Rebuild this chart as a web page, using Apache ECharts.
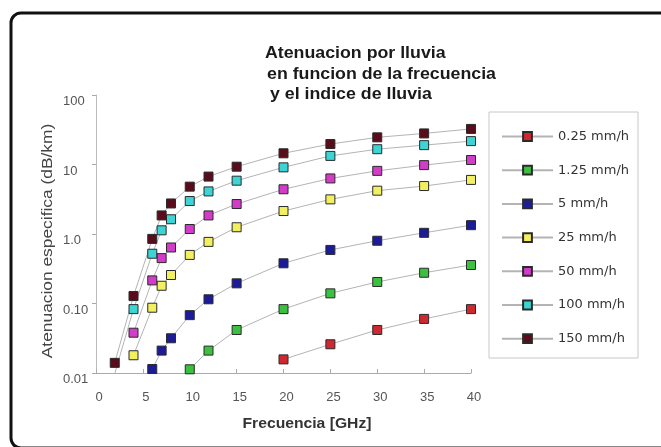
<!DOCTYPE html>
<html>
<head>
<meta charset="utf-8">
<script src="https://cdn.jsdelivr.net/npm/echarts@6/dist/echarts.min.js"></script>
<style>html,body{margin:0;padding:0;background:#fff;}#c{width:661px;height:447px;}</style>
</head>
<body>
<div id="c"></div>
<script>
// Series names
const seriesNames = ['0.25 mm/h','1.25 mm/h','5 mm/h','25 mm/h','50 mm/h','100 mm/h','150 mm/h'];
// Frequencies (GHz) and specific attenuation (dB/km) per rain rate
const freq025 = [20, 25, 30, 35, 40];
const att025  = [0.0157, 0.0259, 0.0416, 0.060, 0.083];
const freq125 = [10, 12, 15, 20, 25, 30, 35, 40];
const att125  = [0.0113, 0.021, 0.0416, 0.083, 0.14, 0.204, 0.277, 0.358];
const freq5   = [6, 7, 8, 10, 12, 15, 20, 25, 30, 35, 40];
const att5    = [0.0114, 0.021, 0.0316, 0.068, 0.115, 0.195, 0.379, 0.59, 0.80, 1.04, 1.34];
const freq25  = [4, 6, 7, 8, 10, 12, 15, 20, 25, 30, 35, 40];
const att25   = [0.018, 0.087, 0.18, 0.257, 0.50, 0.77, 1.25, 2.14, 3.15, 4.2, 4.9, 6.0];
const freq50  = [4, 6, 7, 8, 10, 12, 15, 20, 25, 30, 35, 40];
const att50   = [0.038, 0.215, 0.45, 0.64, 1.18, 1.85, 2.7, 4.4, 6.3, 8.1, 9.8, 11.6];
const freq100 = [2, 4, 6, 7, 8, 10, 12, 15, 20, 25, 30, 35, 40];
const att100  = [0.0098, 0.083, 0.52, 1.13, 1.63, 2.98, 4.1, 5.85, 9.1, 13.3, 16.6, 19.0, 21.7];
const freq150 = [2, 4, 6, 7, 8, 10, 12, 15, 20, 25, 30, 35, 40];
const att150  = [0.014, 0.128, 0.85, 1.85, 2.75, 4.8, 6.7, 9.3, 14.5, 19.7, 24.6, 28.0, 32.5];
// Axis tick labels
const yTickValues = [0.01, 0.1, 1, 10, 100];
const yTickLabels = ['0.01', '0.10', '1.0', '10', '100'];
// Texts
const titleLines = ['Atenuacion por lluvia', 'en funcion de la frecuencia', 'y el indice de lluvia'];
const xAxisTitle = 'Frecuencia [GHz]';
const yAxisTitle = 'Atenuacion especifica (dB/km)';

const freqs = [freq025, freq125, freq5, freq25, freq50, freq100, freq150];
const atts  = [att025, att125, att5, att25, att50, att100, att150];
const colors = ['#d02830', '#3cc040', '#1c1c98', '#f2f060', '#d23cc8', '#3cd4d4', '#5a0c1c'];
const FONT = '"Liberation Sans", Arial, sans-serif';

const chart = echarts.init(document.getElementById('c'), null, {renderer: 'canvas'});
const series = seriesNames.map((name, i) => ({
  name: name,
  type: 'line',
  data: freqs[i].map((f, j) => [f, atts[i][j]]),
  symbol: 'rect',
  symbolSize: 9,
  lineStyle: {color: '#b4b4b4', width: 1},
  itemStyle: {color: colors[i], borderColor: '#2a2a2a', borderWidth: 1},
  emphasis: {disabled: true},
  animation: false,
  z: 3
}));

chart.setOption({
  animation: false,
  backgroundColor: '#fff',
  graphic: [
    {type: 'rect', shape: {x: 11, y: 13, width: 700, height: 435, r: 10}, style: {fill: 'none', stroke: '#111', lineWidth: 3}, z: -1},
    {type: 'rect', shape: {x: 489, y: 112, width: 149, height: 246}, style: {fill: '#fff', stroke: '#c8c8c8', lineWidth: 1}, z: 0},
    {type: 'text', x: 265, y: 54, scaleX: 1.11, style: {text: titleLines[0], font: 'bold 16px ' + FONT, fill: '#1a1a1a', textVerticalAlign: 'middle'}},
    {type: 'text', x: 267, y: 75, scaleX: 1.11, style: {text: titleLines[1], font: 'bold 16px ' + FONT, fill: '#1a1a1a', textVerticalAlign: 'middle'}},
    {type: 'text', x: 270, y: 95, scaleX: 1.11, style: {text: titleLines[2], font: 'bold 16px ' + FONT, fill: '#1a1a1a', textVerticalAlign: 'middle'}},
    {type: 'text', x: 307, y: 424, scaleX: 1.12, style: {text: xAxisTitle, font: 'bold 14px ' + FONT, fill: '#333', textAlign: 'center', textVerticalAlign: 'middle'}},
    {type: 'text', x: 48, y: 241, rotation: Math.PI / 2, scaleX: 1.24, style: {text: yAxisTitle, font: '14px ' + FONT, fill: '#444', textAlign: 'center', textVerticalAlign: 'middle'}}
  ],
  legend: {
    orient: 'vertical',
    left: 496,
    top: 125,
    itemWidth: 51,
    itemHeight: 11,
    itemGap: 20.7,
    data: seriesNames,
    textStyle: {fontFamily: '"DejaVu Sans", sans-serif', fontSize: 13, color: '#333'},
    selectedMode: false,
    z: 5
  },
  grid: {left: 96, right: 190, top: 95, bottom: 74, containLabel: false},
  xAxis: {
    type: 'value',
    min: 0, max: 40, interval: 5,
    axisLine: {lineStyle: {color: '#aaa'}},
    axisTick: {inside: true, length: 4, lineStyle: {color: '#aaa'}},
    axisLabel: {fontFamily: FONT, fontSize: 13, color: '#555', margin: 18, padding: [0, 0, 0, 6]},
    splitLine: {show: false}
  },
  yAxis: {
    type: 'log',
    logBase: 10,
    min: 0.01, max: 100,
    axisLine: {show: true, lineStyle: {color: '#bbb'}},
    axisTick: {show: true, length: 4, lineStyle: {color: '#aaa'}},
    axisLabel: {
      fontFamily: FONT, fontSize: 13, color: '#555', margin: 33, align: 'left', verticalAlign: 'top',
      formatter: function (v) {
        for (let k = 0; k < yTickValues.length; k++) {
          if (Math.abs(Math.log10(v) - Math.log10(yTickValues[k])) < 1e-6) return yTickLabels[k];
        }
        return '';
      }
    },
    splitLine: {show: false}
  },
  series: series
});
</script>
</body>
</html>
